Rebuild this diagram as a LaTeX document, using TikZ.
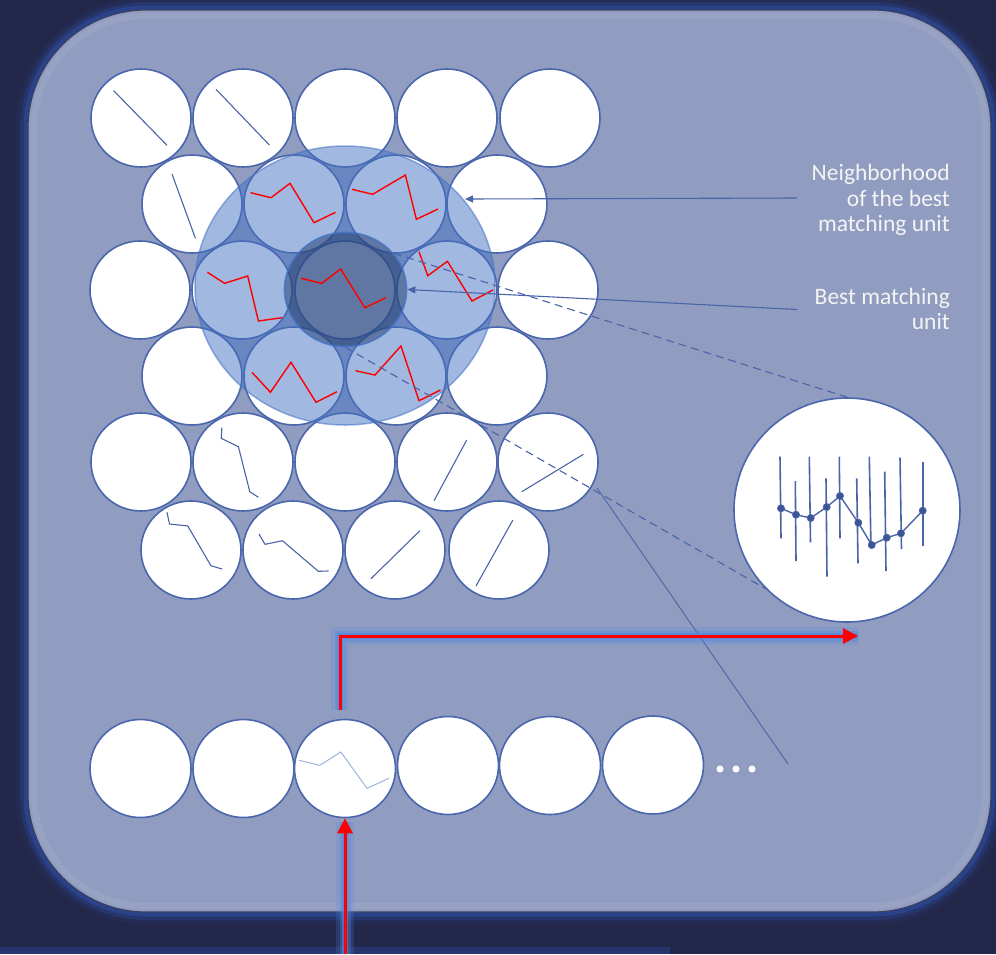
\documentclass[tikz,border=0pt]{standalone}
\usepackage{fontspec}
\setmainfont{Carlito}
\usetikzlibrary{shapes.geometric,arrows.meta}
\definecolor{bgnavy}{HTML}{23284B}
\definecolor{panelc}{HTML}{919DC0}
\definecolor{paneledge}{HTML}{3A405E}
\definecolor{glowc}{HTML}{2D50A8}
\definecolor{cellline}{HTML}{4A66AC}
\definecolor{wline}{HTML}{4A64A8}
\definecolor{nbh}{HTML}{4472C4}
\definecolor{bmuc}{HTML}{1F3864}
\definecolor{redc}{HTML}{FF0000}
\definecolor{rglow}{HTML}{4F86E0}
\definecolor{dotc}{HTML}{3D5593}
\definecolor{zigl}{HTML}{9FB5E0}
\definecolor{txtc}{HTML}{F4F4F4}
\begin{document}
\begin{tikzpicture}[x=1pt,y=-1pt,
  cell/.style={ellipse, draw=cellline, line width=1.6pt, fill=white, minimum width=100pt, minimum height=98pt, inner sep=0pt},
  thinblue/.style={wline, line width=1.1pt, line join=round},
  redzig/.style={redc, line width=1.4pt, line join=miter},
  dashc/.style={wline, line width=1.1pt, dash pattern=on 8pt off 5pt},
  ptr/.style={wline, line width=1.1pt, -{Triangle[length=8pt,width=7pt]}},
  glowA/.style={rglow, line width=18pt, opacity=0.2},
  glowB/.style={rglow, line width=11pt, opacity=0.35},
  glowC/.style={rglow, line width=6pt, opacity=0.6},
  redarrow/.style={redc, line width=3pt, -{Triangle[length=15pt,width=15pt]}},
  lbl/.style={font=\fontsize{23.5}{25.5}\selectfont, text=txtc, inner sep=0pt, anchor=base east},
  magline/.style={wline, line width=1.6pt},
  magdot/.style={fill=dotc, draw=cellline, line width=0.6pt}
]
\useasboundingbox (0,0) rectangle (996,954);
\fill[bgnavy] (0,0) rectangle (996,954);
\fill[glowc, opacity=0.35] (0,947) rectangle (670,954);

% panel with glow
\draw[glowc, line width=24pt, opacity=0.12, rounded corners=118pt] (28,10) rectangle (991,912);
\draw[glowc, line width=16pt, opacity=0.25, rounded corners=118pt] (28,10) rectangle (991,912);
\draw[glowc, line width=9pt, opacity=0.5, rounded corners=118pt] (28,10) rectangle (991,912);
\fill[panelc, rounded corners=118pt] (28,10) rectangle (991,912);
\draw[paneledge, line width=1.2pt, rounded corners=118pt] (28,10) rectangle (991,912);
\draw[white, opacity=0.07, line width=6pt, rounded corners=112pt] (34,16) rectangle (985,906);

% grid of cells
\foreach \x [count=\i] in {141,243,345,447,550} \node[cell] (c1\i) at (\x,118) {};
\foreach \x [count=\i] in {192,294,396,497} \node[cell] (c2\i) at (\x,204) {};
\foreach \x [count=\i] in {140,242,345,447,548} \node[cell] (c3\i) at (\x,290) {};
\foreach \x [count=\i] in {192,294,396,497} \node[cell] (c4\i) at (\x,376) {};
\foreach \x [count=\i] in {141,243,345,447,548} \node[cell] (c5\i) at (\x,462) {};
\foreach \x [count=\i] in {191,293,395,499} \node[cell] (c6\i) at (\x,550) {};

% input row
\node[cell, minimum width=101pt] (b1) at (140.5,768.5) {};
\node[cell, minimum width=101pt] (b2) at (243.5,768.5) {};
\node[cell, minimum width=101pt] (b3) at (345,768.5) {};
\node[cell, minimum width=101pt] (b4) at (448,765.5) {};
\node[cell, minimum width=101pt] (b5) at (550,765.5) {};
\node[cell, minimum width=101pt] (b6) at (653,765) {};

% weight patterns in white cells
\draw[thinblue] (113.7,90.7) -- (167,145.3);
\draw[thinblue] (216,89.3) -- (269.4,145);
\draw[thinblue] (172,174) -- (195.4,238.3);
\draw[thinblue] (221.9,427.3) -- (221.2,438.3) -- (238.4,446.7) -- (249.8,491.7) -- (258.4,497.3);
\draw[thinblue] (466.7,440) -- (434,500.7);
\draw[thinblue] (583.4,454.3) -- (521.8,491.7);
\draw[thinblue] (167,512.3) -- (169.5,524) -- (187.8,526) -- (210.9,565.7) -- (221.9,569);
\draw[thinblue] (259,534) -- (265,544.3) -- (282.5,540.7) -- (318.3,571.3) -- (328.6,571);
\draw[thinblue] (419.9,530.7) -- (371,578.7);
\draw[thinblue] (512.9,520) -- (476,586);
\draw[zigl, line width=1pt] (299,760.3) -- (319.7,765.3) -- (340.8,752) -- (367,788.3) -- (389,778.3);

% neighbourhood and best matching unit
\node[ellipse, fill=nbh, fill opacity=0.5, draw=nbh, draw opacity=0.55, line width=1.5pt, minimum width=300pt, minimum height=279pt, inner sep=0pt] (nbhd) at (345,285.5) {};
\node[ellipse, fill=bmuc, fill opacity=0.5, draw=nbh, draw opacity=0.8, line width=1.8pt, minimum width=122pt, minimum height=114pt, inner sep=0pt] (bmu) at (345.5,289.5) {};

% red weight patterns
\draw[redzig] (250.5,192.7) -- (271,197.7) -- (290,183.3) -- (314,222.7) -- (335.5,212.3);
\draw[redzig] (352,189.3) -- (372.7,194.3) -- (405.4,175) -- (416.4,219.3) -- (438,209);
\draw[redzig] (207.4,272.3) -- (224.6,283.3) -- (247.7,276) -- (258.4,321) -- (282,317.7);
\draw[redzig] (301,278.3) -- (321.7,283.3) -- (340.7,269) -- (364.8,307.7) -- (385.8,297.7);
\draw[redzig] (419,251.7) -- (427.8,275.7) -- (447.4,261.3) -- (472,301) -- (493,290);
\draw[redzig] (252,372.3) -- (270.4,392.3) -- (291,362.3) -- (316,402.3) -- (337,391.7);
\draw[redzig] (355.5,370.7) -- (375,375) -- (401,346) -- (419,400.7) -- (440.5,390);

% magnified view
\node[cell, minimum width=226pt, minimum height=224pt] (mag) at (847,510) {};
\draw[magline] (780,456.7) -- (781,538.3);
\draw[magline] (795.3,481) -- (796,561);
\draw[magline] (809.3,456.7) -- (810.5,542.3);
\draw[magline] (826,478.3) -- (827,576.7);
\draw[magline] (839.3,456.7) -- (840,538.3);
\draw[magline] (856.7,478.3) -- (858,563.3);
\draw[magline] (869.3,456.7) -- (871,548.3);
\draw[magline] (884.7,471.7) -- (886,571);
\draw[magline] (900,457.7) -- (901.5,549);
\draw[magline] (922.7,461.7) -- (922.7,546);
\draw[magline, line width=1.4pt] (781,508.3) -- (796,514.7) -- (810.7,518) -- (826.7,507) -- (840,496) -- (858.3,522.7) -- (871.7,545) -- (886.7,537.7) -- (901,533.3) -- (922.7,510.7);
\foreach \p in {(781,508.3),(796,514.7),(810.7,518),(826.7,507),(840,496),(858.3,522.7),(871.7,545),(886.7,537.7),(901,533.3),(922.7,510.7)}
  \filldraw[magdot] \p circle (3.6pt);

% dashed projection lines and thin line
\draw[dashc] (bmu.37) -- (mag.north);
\draw[dashc] (bmu.south) -- (mag.224);
\coordinate (sA) at (597,488);
\coordinate (sB) at (788,764);
\draw[wline, line width=0.9pt] (sA) -- (sB);

% label pointers
\coordinate (nlA) at (797,198);
\coordinate (nlB) at (465,199);
\draw[ptr] (nlA) -- (nlB);
\coordinate (blA) at (797,309.5);
\draw[ptr] (blA) -- (bmu.east);

% labels
\node[lbl] (t1) at (950,180.7) {Neighborhood};
\node[lbl] (t2) at (950,206.2) {of the best};
\node[lbl] (t3) at (950,231.7) {matching unit};
\node[lbl] (t4) at (950,304) {Best matching};
\node[lbl] (t5) at (950,329.5) {unit};

% ellipsis
\foreach \x [count=\i] in {720,736,752} \fill[white] (\x,769) circle (3.5pt);

% red arrows with glow
\coordinate (rA) at (340,710);
\coordinate (rB) at (340,636);
\coordinate (rC) at (858,636);
\coordinate (rIn) at (345,954);
\foreach \g in {glowA,glowB,glowC} {
  \draw[\g] (rA) -- (rB) -- (rC);
  \draw[\g] (rIn) -- (345,822);
}
\draw[redarrow] (rA) -- (rB) -- (rC);
\draw[redarrow] (rIn) -- (b3.south);
\end{tikzpicture}
\end{document}
